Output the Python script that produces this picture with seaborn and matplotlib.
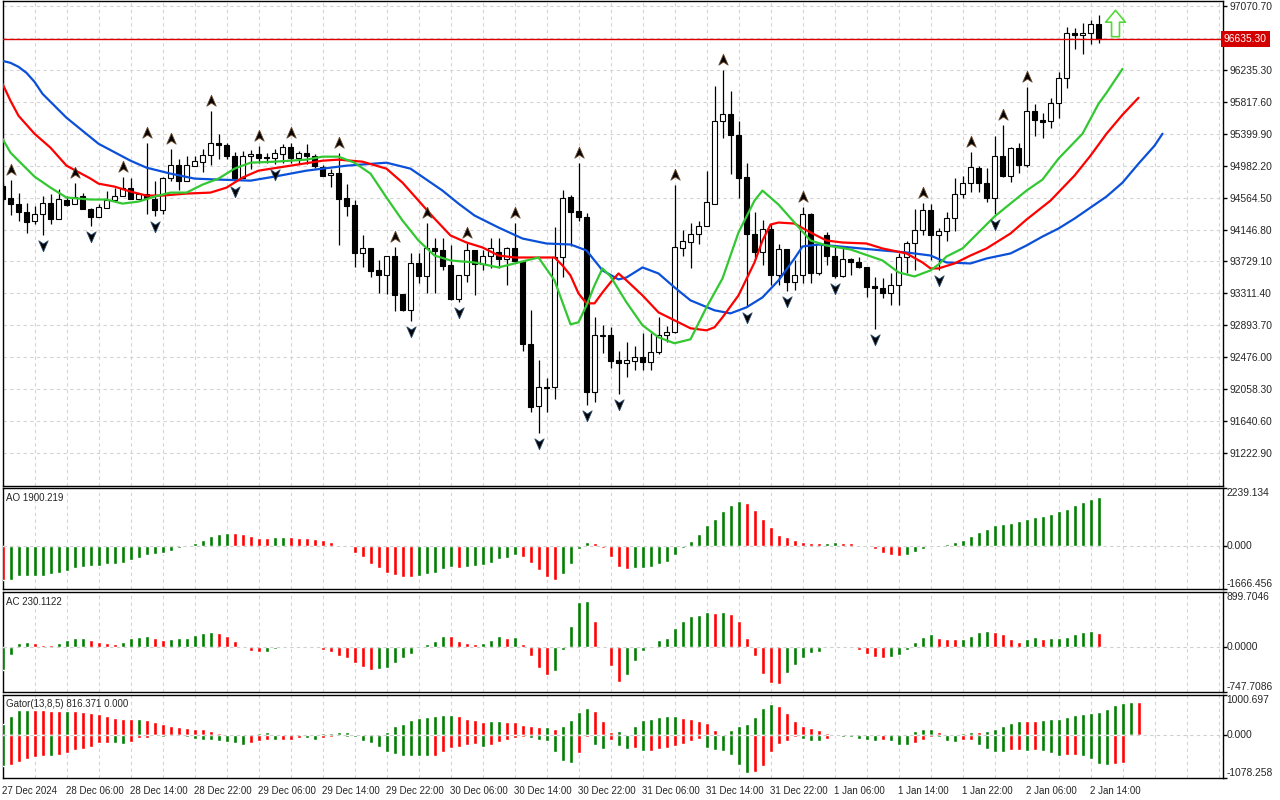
import numpy as np
import pandas as pd
import seaborn as sns
import matplotlib.pyplot as plt
import matplotlib.transforms as mtransforms
from matplotlib.path import Path
from matplotlib.ticker import MultipleLocator

# H1 candles, 27 Dec 22:00 .. 2 Jan 15:00
opens = [94721, 94565, 94486, 94382, 94264, 94356, 94499, 94290, 94539, 94486,
         94591, 94421, 94317, 94434, 94539, 94591, 94695, 94552, 94617, 94552,
         94408, 94826, 94995, 94786, 94982, 95034, 95126, 95283, 95256, 95113,
         94826, 95113, 95139, 95100, 95087, 95139, 95230, 95087, 95152, 95113,
         94969, 94865, 94891, 94565, 94473, 93834, 93899, 93612, 93546, 93794,
         93298, 93090, 93703, 93533, 93899, 93873, 93677, 93233, 93546, 93873,
         93690, 93807, 93847, 93755, 93899, 93729, 92646, 91836, 92071, 92084,
         93781, 94578, 94395, 94317, 92019, 92750, 92763, 92437, 92398, 92424,
         92476, 92411, 92541, 92763, 92802, 93899, 93990, 94082, 94199, 94486,
         95570, 95661, 95387, 94839, 94082, 93847, 94160, 93546, 93886, 93455,
         93546, 94356, 93573, 94069, 93807, 93533, 93755, 93716, 93651, 93403,
         93377, 93311, 93416, 93781, 93977, 94147, 94408, 94069, 94121, 94303,
         94617, 94760, 94956, 94760, 94565, 95113, 94852, 95217, 94995, 95700,
         95583, 95570, 95805, 96131, 96718, 96692, 96718, 96836]
highs = [94760, 94800, 94630, 94499, 94460, 94591, 94617, 94682, 94591, 94760,
         94630, 94434, 94486, 94656, 94695, 94839, 94826, 94630, 95283, 94786,
         94830, 95204, 95074, 95113, 95113, 95204, 95700, 95400, 95283, 95165,
         95178, 95191, 95243, 95152, 95204, 95269, 95283, 95178, 95269, 95139,
         94995, 94943, 95152, 94747, 94539, 94069, 93905, 93742, 93807, 93912,
         93305, 93834, 93834, 94238, 94042, 94042, 93938, 93546, 93977, 93880,
         93873, 94042, 94042, 93912, 94238, 93735, 93090, 92437, 92202, 94186,
         94669, 94604, 95021, 94369, 92998, 92894, 92868, 92554, 92672, 92620,
         92789, 92789, 92998, 92881, 94734, 94147, 94238, 94264, 94917, 96026,
         96235, 95961, 95570, 95021, 94382, 94277, 94225, 93951, 93893, 93742,
         94447, 94362, 93970, 94108, 93925, 93912, 93768, 93781, 93660, 93520,
         93507, 93573, 93834, 94003, 94421, 94500, 94486, 94173, 94382, 94826,
         94852, 95165, 94982, 94956, 95374, 95517, 95225, 95283, 96013, 95791,
         95674, 95870, 96209, 96797, 96784, 96849, 96888, 96953]
lows = [94525, 94343, 94264, 94095, 94225, 94080, 94225, 94290, 94460, 94480,
        94410, 94199, 94310, 94425, 94530, 94585, 94552, 94545, 94356, 94330,
        94356, 94786, 94669, 94780, 94975, 94904, 94995, 95074, 95074, 94786,
        94820, 94943, 95021, 95021, 95008, 95021, 95021, 95008, 95008, 94956,
        94845, 94708, 93938, 94330, 93651, 93651, 93520, 93311, 93298, 93076,
        93085, 92946, 93442, 93311, 93311, 93612, 93225, 93194, 93455, 93285,
        93612, 93638, 93638, 93416, 93720, 92554, 91758, 91484, 91758, 91928,
        93520, 93925, 94264, 91849, 91889, 92528, 92332, 91993, 92215, 92306,
        92306, 92306, 92515, 92672, 92789, 93794, 93638, 93964, 94190, 94480,
        95348, 94878, 94565, 93129, 93768, 93677, 93416, 93416, 93340, 93351,
        93442, 93442, 93546, 93677, 93507, 93520, 93546, 93638, 93259, 92842,
        93246, 93155, 93155, 93573, 93612, 94069, 93742, 93612, 94003, 94134,
        94565, 94643, 94643, 94512, 94356, 94839, 94773, 94891, 94969, 95374,
        95348, 95478, 95609, 96000, 96509, 96444, 96575, 96588]
closes = [94552, 94486, 94382, 94251, 94356, 94499, 94290, 94552, 94473, 94578,
          94421, 94317, 94447, 94539, 94591, 94695, 94552, 94617, 94565, 94408,
          94826, 94995, 94786, 94995, 95048, 95126, 95283, 95256, 95113, 94826,
          95113, 95139, 95087, 95087, 95152, 95230, 95087, 95152, 95113, 94982,
          94852, 94891, 94552, 94460, 93834, 93899, 93599, 93546, 93794, 93285,
          93090, 93703, 93533, 93899, 93860, 93664, 93233, 93546, 93873, 93690,
          93807, 93899, 93755, 93899, 93729, 92646, 91823, 92084, 92084, 93781,
          94565, 94382, 94317, 92019, 92763, 92763, 92424, 92398, 92437, 92476,
          92411, 92541, 92763, 92802, 93912, 94003, 94082, 94199, 94512, 95570,
          95661, 95387, 94826, 94082, 93847, 94160, 93546, 93886, 93455, 93546,
          94356, 93573, 93964, 93794, 93533, 93755, 93716, 93651, 93390, 93377,
          93311, 93416, 93781, 93977, 94147, 94408, 94069, 94121, 94303, 94617,
          94760, 94969, 94760, 94565, 95113, 94852, 95217, 94995, 95700, 95583,
          95557, 95805, 96131, 96718, 96692, 96718, 96836, 96635.30]

# alligator lines (jaw/teeth/lips, already shifted forward)
jaw_idx = [0, 1, 2, 3, 4, 5, 8, 12, 16, 18, 21, 24, 27, 31, 34, 38, 43, 48, 51, 55,
           57, 59, 61, 62, 65, 68, 71, 73, 75, 77, 78, 79, 80, 82, 84, 86, 89, 91, 93, 95,
           97, 99, 100, 102, 106, 110, 113, 116, 118, 121, 123, 126, 128, 130, 132, 134,
           136, 138, 140, 142, 144, 145]
jaw_val = [96353, 96327, 96275, 96196, 96079, 95922, 95609, 95269, 95047, 94956,
           94878, 94813, 94800, 94786, 94839, 94917, 94982, 95021, 94943, 94656,
           94486, 94330, 94225, 94173, 94029, 93964, 93951, 93873, 93612, 93494,
           93520, 93585, 93651, 93572, 93390, 93220, 93090, 93050, 93129, 93259,
           93481, 93768, 93925, 93951, 93912, 93873, 93847, 93807, 93716, 93703,
           93768, 93834, 93938, 94055, 94160, 94290, 94434, 94578, 94760, 95008,
           95243, 95400]
teeth_idx = [0, 1, 2, 4, 6, 8, 11, 12, 14, 16, 18, 20, 23, 26, 28, 30, 32, 36, 40, 42,
             45, 48, 50, 52, 54, 56, 58, 60, 62, 64, 69, 70, 71, 72, 73, 74, 75, 76, 77, 78,
             80, 82, 84, 86, 88, 89, 90, 92, 94, 95, 96, 97, 99, 101, 103, 105, 108, 110,
             113, 115, 116, 117, 119, 121, 123, 126, 128, 131, 134, 136, 138, 140, 142]
teeth_val = [96053, 95831, 95635, 95400, 95217, 94982, 94813, 94747, 94708, 94643,
             94591, 94591, 94617, 94630, 94695, 94826, 94917, 94982, 95047, 95061,
             95034, 94943, 94760, 94525, 94290, 94069, 93977, 93912, 93807, 93781,
             93781, 93677, 93546, 93311, 93181, 93181, 93324, 93455, 93572, 93481,
             93285, 93063, 92959, 92855, 92828, 92868, 92998, 93285, 93716, 94003,
             94212, 94238, 94225, 94108, 94003, 93977, 93964, 93899, 93834, 93716,
             93638, 93638, 93703, 93807, 93899, 94095, 94277, 94525, 94852, 95113,
             95400, 95648, 95870]
lips_idx = [0, 1, 2, 4, 6, 8, 11, 13, 15, 17, 19, 21, 23, 25, 27, 29, 31, 34, 38, 40,
            42, 44, 46, 48, 50, 52, 54, 56, 59, 62, 65, 67, 69, 71, 72, 73, 74, 75, 76, 78,
            80, 82, 84, 86, 88, 90, 92, 94, 95, 97, 99, 101, 103, 106, 110, 112, 114, 116,
            117, 118, 120, 122, 124, 128, 130, 132, 135, 137, 138, 140]
lips_val = [95335, 95152, 95047, 94839, 94695, 94565, 94539, 94539, 94486, 94512,
            94578, 94630, 94630, 94734, 94813, 94943, 95021, 95034, 95061, 95100,
            95100, 95021, 94878, 94565, 94264, 94003, 93807, 93742, 93716, 93651,
            93729, 93781, 93481, 92907, 92933, 93155, 93416, 93638, 93533, 93194,
            92894, 92737, 92659, 92711, 93129, 93507, 94108, 94525, 94656, 94473,
            94238, 94003, 93938, 93886, 93742, 93586, 93533, 93612, 93690, 93794,
            93899, 94108, 94317, 94656, 94800, 95074, 95400, 95791, 95935, 96248]

frac_up = [1, 9, 15, 18, 21, 26, 32, 36, 42, 49, 53, 58, 64, 72, 84, 90, 100, 115, 121, 125, 128]
frac_dn = [5, 11, 19, 29, 34, 51, 57, 67, 73, 77, 93, 98, 104, 109, 117, 124]

signal_bar = 139
signal_price = 96842

ao = [-1326, -1300, -1165, -1160, -1155, -1150, -1105, -1040, -962, -871,
      -806, -767, -760, -715, -689, -650, -533, -455, -351, -312,
      -260, -182, -91, -26, 104, 234, 364, 468, 507, 500,
      468, 390, 325, 320, 338, 351, 338, 312, 299, 273,
      234, 156, 39, -39, -260, -442, -702, -858, -1040, -1118,
      -1196, -1210, -1157, -1105, -1066, -897, -806, -858, -806, -780,
      -741, -650, -507, -455, -351, -416, -650, -936, -1196, -1326,
      -1092, -702, -117, 143, 104, -91, -416, -806, -897, -858,
      -845, -806, -702, -611, -338, -65, 195, 468, 819, 1053,
      1365, 1599, 1755, 1677, 1404, 1027, 715, 429, 338, 234,
      143, 104, 100, 117, 156, 117, 110, 26, 5, -130,
      -260, -338, -390, -338, -221, -104, -26, -10, 78, 156,
      247, 364, 546, 663, 793, 858, 897, 949, 1027, 1131,
      1157, 1248, 1365, 1443, 1599, 1716, 1820, 1900.219]
ac = [-390, -143, 66, 83, 66, 33, 30, 66, 116, 149,
      150, 116, 83, 66, 50, 83, 143, 165, 182, 149,
      116, 132, 135, 149, 198, 231, 233, 229, 182, 99,
      11, -77, -94, -90, -44, -11, 3, -5, -27, -28,
      -61, -94, -160, -193, -275, -341, -390, -374, -357, -275,
      -193, -127, 3, 50, 99, 182, 178, 99, 66, 50,
      66, 116, 182, 149, 165, 50, -160, -357, -473, -407,
      -61, 347, 743, 759, 429, -11, -325, -589, -473, -242,
      -77, 11, 116, 149, 314, 429, 512, 528, 578, 561,
      578, 545, 429, 149, -160, -457, -605, -610, -440, -308,
      -193, -110, -94, 11, 14, -11, -27, -61, -127, -176,
      -193, -176, -143, -61, 83, 165, 215, 149, 132, 130,
      133, 182, 248, 264, 248, 215, 132, 83, 132, 165,
      132, 149, 150, 165, 215, 248, 264, 230.1122]
gator_up = [274, 479, 625, 630, 620, 615, 610, 605, 612, 607,
            582, 556, 522, 471, 419, 394, 390, 394, 368, 317,
            265, 214, 210, 163, 160, 137, 111, 60, 17, 9,
            5, 34, 60, 86, 34, 32, 30, 34, 35, 36,
            38, 60, 62, 64, 34, 17, 34, 36, 86, 214,
            265, 368, 419, 445, 471, 497, 500, 471, 394, 368,
            317, 342, 345, 317, 315, 240, 214, 188, 190, 137,
            214, 368, 574, 676, 599, 342, 86, 90, 2, 214,
            385, 411, 462, 465, 468, 437, 411, 360, 308, 128,
            2, 128, 214, 282, 462, 668, 770, 719, 539, 360,
            231, 180, 128, 51, 3, 17, 34, 36, 34, 8,
            5, 8, 34, 36, 111, 137, 140, 86, 34, 36,
            38, 86, 84, 88, 137, 214, 291, 342, 340, 338,
            368, 394, 396, 445, 497, 522, 548, 565, 651, 753,
            805, 830, 816.371]
gator_dn = [-770, -753, -668, -599, -548, -531, -535, -496, -445, -377,
            -351, -291, -214, -210, -214, -218, -171, -86, -82, -10,
            -60, -17, -12, -60, -94, -120, -122, -146, -171, -197,
            -248, -197, -146, -120, -124, -118, -115, -80, -86, -120,
            -86, -60, -34, -60, -62, -146, -197, -291, -428, -471,
            -522, -525, -528, -530, -522, -420, -317, -291, -240, -235,
            -291, -240, -188, -137, -86, -60, -86, -120, -146, -420,
            -651, -702, -462, -60, -240, -342, -128, -274, -342, -325,
            -402, -400, -360, -325, -274, -223, -146, -94, -325, -377,
            -402, -514, -745, -942, -916, -770, -428, -223, -146, -43,
            -94, -146, -150, -94, -5, -51, -55, -103, -137, -140,
            -137, -163, -240, -257, -205, -137, -51, -55, -163, -188,
            -137, -135, -240, -342, -420, -422, -368, -366, -394, -368,
            -394, -445, -522, -496, -494, -522, -599, -728, -753, -728,
            -702, 0, 0]

price_ticks = [97070.70, 96653.00, 96235.30, 95817.60, 95399.90, 94982.20, 94564.50,
               94146.80, 93729.10, 93311.40, 92893.70, 92476.00, 92058.30, 91640.60, 91222.90]
ao_range = (-1666.456, 2239.134)
ac_range = (-747.7086, 899.7046)
gator_range = (-1078.258, 1000.697)
x_tick_idx = list(range(0, 137, 8))
x_tick_labels = ["27 Dec 2024", "28 Dec 06:00", "28 Dec 14:00", "28 Dec 22:00",
                 "29 Dec 06:00", "29 Dec 14:00", "29 Dec 22:00", "30 Dec 06:00",
                 "30 Dec 14:00", "30 Dec 22:00", "31 Dec 06:00", "31 Dec 14:00",
                 "31 Dec 22:00", "1 Jan 06:00", "1 Jan 14:00", "1 Jan 22:00",
                 "2 Jan 06:00", "2 Jan 14:00"]

GREEN = '#008000'
RED = '#ff0000'
GRID = '#d4d4d4'
FS = 7
FS_AXIS = 7.4

sns.set_style("white")
plt.rcParams['font.family'] = ['Liberation Sans', 'DejaVu Sans']
plt.rcParams['font.size'] = FS

W, H = 1280, 800
fig = plt.figure(figsize=(12.8, 8), dpi=100)


def panel(top, bottom):
    return fig.add_axes([2.5 / W, 1 - bottom / H, 1220 / W, (bottom - top) / H])


ax = panel(1, 486)
ax_ao = panel(488, 589)
ax_ac = panel(592, 692)
ax_gt = panel(695, 778)

for a in (ax, ax_ao, ax_ac, ax_gt):
    a.set_xlim(0, 152.5)
    for s in a.spines.values():
        s.set_color('black')
        s.set_linewidth(1.0)
    a.set_xticks(x_tick_idx)
    a.xaxis.set_minor_locator(MultipleLocator(4))
    a.grid(True, which='both', axis='x', color=GRID, ls=(0, (3, 3)), lw=0.8)
    a.set_axisbelow(True)
    a.yaxis.tick_right()
    a.tick_params(axis='y', which='both', left=False, right=True, length=3,
                  width=1, color='black', pad=2, labelsize=FS_AXIS)

for a in (ax, ax_ao, ax_ac):
    a.tick_params(axis='x', which='both', length=0, labelbottom=False)

# ---- main candle chart
idx = np.arange(len(closes))
o = np.array(opens, dtype=float)
c = np.array(closes, dtype=float)
ax.vlines(idx, lows, highs, color='black', lw=0.9, zorder=2)
ax.bar(idx, np.abs(c - o), bottom=np.minimum(o, c), width=0.6,
       color=np.where(c >= o, 'white', 'black'), edgecolor='black', linewidth=0.8, zorder=3)

sns.lineplot(x=jaw_idx, y=jaw_val, ax=ax, color='#0a50d8', linewidth=1.6, estimator=None, sort=False, zorder=4)
sns.lineplot(x=teeth_idx, y=teeth_val, ax=ax, color='#ff0000', linewidth=1.6, estimator=None, sort=False, zorder=4)
sns.lineplot(x=lips_idx, y=lips_val, ax=ax, color='#32c832', linewidth=1.6, estimator=None, sort=False, zorder=4)

up_head = Path([(0, 1), (0.75, -0.75), (0, -0.25), (-0.75, -0.75), (0, 1)],
               [Path.MOVETO, Path.LINETO, Path.LINETO, Path.LINETO, Path.CLOSEPOLY])
dn_head = Path([(0, -1), (0.75, 0.75), (0, 0.25), (-0.75, 0.75), (0, -1)],
               [Path.MOVETO, Path.LINETO, Path.LINETO, Path.LINETO, Path.CLOSEPOLY])
above = mtransforms.offset_copy(ax.transData, fig=fig, x=0, y=10, units='dots')
below = mtransforms.offset_copy(ax.transData, fig=fig, x=0, y=-10, units='dots')
ax.plot(frac_up, [highs[i] for i in frac_up], ls='none', marker=up_head, ms=9,
        mfc='black', mec='#6b4a2a', mew=0.6, transform=above, zorder=5)
ax.plot(frac_dn, [lows[i] for i in frac_dn], ls='none', marker=dn_head, ms=9,
        mfc='black', mec='#2a4a6b', mew=0.6, transform=below, zorder=5)

up_arrow = Path([(-0.3, -1), (0.3, -1), (0.3, 0.1), (0.75, 0.1), (0, 1), (-0.75, 0.1), (-0.3, 0.1), (-0.3, -1)],
                [Path.MOVETO] + [Path.LINETO] * 6 + [Path.CLOSEPOLY])
ax.plot([signal_bar], [signal_price], ls='none', marker=up_arrow, ms=19,
        mfc='white', mec='#55d838', mew=1.2, zorder=5)

last = closes[-1]
ax.axhline(last, color='#e00000', lw=1.0, zorder=4)
ax.set_ylim(90792, 97136)
ax.set_yticks(price_ticks)
ax.set_yticklabels(['' if p == 96653.00 else f'{p:.2f}' for p in price_ticks])
ax.grid(True, axis='y', color=GRID, ls=(0, (3, 3)), lw=0.8)
blend = mtransforms.blended_transform_factory(ax.transAxes, ax.transData)
ax.text(1.0012, last, f'{last:.2f}', transform=blend, ha='left', va='center', color='white',
        fontsize=FS_AXIS, bbox=dict(boxstyle='square,pad=0.3', fc='#d40000', ec='none'), zorder=6)


# ---- oscillators
def bar_colors(vals, first):
    cols = [first]
    for prev, cur in zip(vals[:-1], vals[1:]):
        cols.append(GREEN if cur > prev else RED)
    return cols


def right_labels(a, lo, hi, fmt):
    tr = mtransforms.blended_transform_factory(a.transAxes, a.transData)
    a.set_ylim(lo, hi)
    a.set_yticks([lo, 0, hi])
    a.set_yticklabels([])
    a.text(1.003, hi, fmt.format(hi), transform=tr, ha='left', va='top', fontsize=FS_AXIS)
    a.text(1.003, 0, fmt.format(0), transform=tr, ha='left', va='center', fontsize=FS_AXIS)
    a.text(1.003, lo, fmt.format(lo), transform=tr, ha='left', va='bottom', fontsize=FS_AXIS)
    a.axhline(0, color='#cfcfcf', ls=(0, (3, 3)), lw=0.8, zorder=4)


ax_ao.bar(np.arange(len(ao)), ao, width=0.5, color=bar_colors(ao, RED), zorder=3)
right_labels(ax_ao, *ao_range, '{:.3f}')
ax_ao.text(0.003, 0.95, f'AO {ao[-1]:.3f}', transform=ax_ao.transAxes, ha='left', va='top', fontsize=FS)

ax_ac.bar(np.arange(len(ac)), ac, width=0.5, color=bar_colors(ac, GREEN), zorder=3)
right_labels(ax_ac, *ac_range, '{:.4f}')
ax_ac.text(0.003, 0.95, f'AC {ac[-1]:.4f}', transform=ax_ac.transAxes, ha='left', va='top', fontsize=FS)

gx = np.arange(len(gator_up))
ax_gt.bar(gx, gator_up, width=0.5, color=bar_colors(gator_up, GREEN), zorder=3)
ax_gt.bar(gx, gator_dn, width=0.5, color=bar_colors([abs(v) for v in gator_dn], GREEN), zorder=3)
right_labels(ax_gt, *gator_range, '{:.3f}')
ax_gt.text(0.003, 0.95, f'Gator(13,8,5) {gator_up[-1]:.3f} {gator_dn[-1]:.3f}',
           transform=ax_gt.transAxes, ha='left', va='top', fontsize=FS)

ax_gt.set_xticklabels(x_tick_labels, ha='left', fontsize=FS)
ax_gt.tick_params(axis='x', which='major', length=4, width=1, direction='out', pad=2)
ax_gt.tick_params(axis='x', which='minor', length=0)

fig.savefig('out.png', dpi=100)
